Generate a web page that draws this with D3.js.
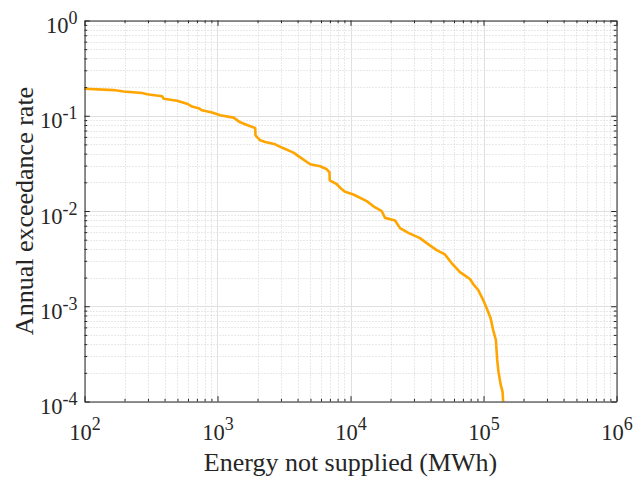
<!DOCTYPE html>
<html>
<head>
<meta charset="utf-8">
<script src="https://cdn.jsdelivr.net/npm/d3@7"></script>
<style>
  html, body { margin: 0; padding: 0; background: #fff; }
  svg { display: block; }
  text { font-family: "Liberation Serif", "Times New Roman", serif; fill: #262626; }
</style>
</head>
<body>
<svg id="chart" width="634" height="477"></svg>
<script>
// ---- data ----
const energy = [100, 166, 197, 271, 296, 383, 394, 496, 590, 644, 721, 765, 910, 1050, 1321, 1483, 1664, 1921, 1930,
  2094, 2284, 2716, 2960, 3725, 4186, 4975, 5911, 6637, 6950, 6980, 7884, 8602, 9105, 10510, 13250, 14860, 17180,
  18190, 21630, 23570, 27210, 33300, 37400, 44460, 51290, 57560, 60940, 66490, 70430, 79040, 83720, 91250, 99500,
  105500, 113000, 118200, 123900, 126800, 129700, 134300, 139100, 140500];
const rate = [0.192, 0.186, 0.180, 0.173, 0.168, 0.160, 0.151, 0.144, 0.134, 0.125, 0.120, 0.114, 0.108, 0.101, 0.0955,
  0.0853, 0.0799, 0.0743, 0.0623, 0.0552, 0.0530, 0.0501, 0.0472, 0.0410, 0.0366, 0.0310, 0.0295, 0.0274, 0.0255,
  0.0210, 0.0191, 0.0169, 0.0159, 0.0149, 0.0127, 0.0112, 0.00995, 0.00847, 0.00795, 0.00661, 0.00589, 0.00519,
  0.00460, 0.00388, 0.00350, 0.00284, 0.00260, 0.00228, 0.00216, 0.00193, 0.00171, 0.00148, 0.00116, 0.000958,
  0.000752, 0.000562, 0.000442, 0.000273, 0.000204, 0.000153, 0.000126, 0.0001];
const xTickExps = [2, 3, 4, 5, 6];
const yTickExps = [0, -1, -2, -3, -4];
const xLabel = "Energy not supplied (MWh)";
const yLabel = "Annual exceedance rate";

// ---- layout ----
const svg = d3.select("#chart");
const L = 84.5, R = 616.5, T = 20.5, B = 401.5;
const x = d3.scaleLog().domain([1e2, 1e6]).range([L, R]);
const y = d3.scaleLog().domain([1e-4, 1]).range([B, T]);

const xMajor = xTickExps.map(e => Math.pow(10, e));
const yMajor = yTickExps.map(e => Math.pow(10, e));
function minors(lo, hi) {
  const out = [];
  for (let e = lo; e < hi; e++) for (let m = 2; m <= 9; m++) out.push(m * Math.pow(10, e));
  return out;
}
const xMinor = minors(2, 6);
const yMinor = minors(-4, 0);

const axisColor = "#262626";
const tickFont = 22.5, supFont = 18, labelFont = 26;
const g = svg.append("g");

// grid: minor dotted, major solid
g.append("g").selectAll("line").data(xMinor).join("line")
  .attr("x1", d => Math.round(x(d)) + 0.5).attr("x2", d => Math.round(x(d)) + 0.5)
  .attr("y1", T).attr("y2", B)
  .attr("stroke", "#d2d2d2").attr("stroke-width", 1).attr("stroke-dasharray", "1,2");
g.append("g").selectAll("line").data(yMinor).join("line")
  .attr("y1", d => Math.round(y(d)) + 0.5).attr("y2", d => Math.round(y(d)) + 0.5)
  .attr("x1", L).attr("x2", R)
  .attr("stroke", "#d2d2d2").attr("stroke-width", 1).attr("stroke-dasharray", "1,2");
g.append("g").selectAll("line").data(xMajor).join("line")
  .attr("x1", d => Math.round(x(d)) + 0.5).attr("x2", d => Math.round(x(d)) + 0.5)
  .attr("y1", T).attr("y2", B)
  .attr("stroke", "#e0e0e0").attr("stroke-width", 1);
g.append("g").selectAll("line").data(yMajor).join("line")
  .attr("y1", d => Math.round(y(d)) + 0.5).attr("y2", d => Math.round(y(d)) + 0.5)
  .attr("x1", L).attr("x2", R)
  .attr("stroke", "#e0e0e0").attr("stroke-width", 1);

// data line
const line = d3.line().x((d, i) => x(energy[i])).y((d, i) => y(rate[i]));
g.append("path").datum(rate)
  .attr("d", line)
  .attr("fill", "none")
  .attr("stroke", "#FFA500")
  .attr("stroke-width", 2.6)
  .attr("stroke-linejoin", "round");

// axes (ticks pointing inward, box on)
const majLen = 5.3, minLen = 2.7;
function styleAxis(sel) {
  sel.selectAll("path.domain").attr("stroke", axisColor).attr("stroke-width", 1);
  sel.selectAll(".tick line").attr("stroke", axisColor).attr("stroke-width", 1);
}
function blankAxis(axis) { return axis.tickFormat(() => ""); }

// minor ticks
[
  [d3.axisBottom(x).tickValues(xMinor).tickSizeInner(-minLen).tickSizeOuter(0), `translate(0,${B})`],
  [d3.axisTop(x).tickValues(xMinor).tickSizeInner(-minLen).tickSizeOuter(0), `translate(0,${T})`],
  [d3.axisLeft(y).tickValues(yMinor).tickSizeInner(-minLen).tickSizeOuter(0), `translate(${L},0)`],
  [d3.axisRight(y).tickValues(yMinor).tickSizeInner(-minLen).tickSizeOuter(0), `translate(${R},0)`]
].forEach(([ax, tr]) => {
  g.append("g").attr("transform", tr).call(blankAxis(ax)).call(styleAxis)
    .selectAll("path.domain").remove();
});

// top/right major ticks (no labels) with domain
g.append("g").attr("transform", `translate(0,${T})`)
  .call(blankAxis(d3.axisTop(x).tickValues(xMajor).tickSizeInner(-majLen).tickSizeOuter(0))).call(styleAxis);
g.append("g").attr("transform", `translate(${R},0)`)
  .call(blankAxis(d3.axisRight(y).tickValues(yMajor).tickSizeInner(-majLen).tickSizeOuter(0))).call(styleAxis);

// bottom axis with labels 10^n
const xAxisG = g.append("g").attr("transform", `translate(0,${B})`)
  .call(d3.axisBottom(x).tickValues(xMajor).tickSizeInner(-majLen).tickSizeOuter(0).tickFormat(d => ""))
  .call(styleAxis);
xAxisG.selectAll(".tick text").each(function (d) {
  const t = d3.select(this);
  t.text(null).attr("y", 38).attr("dy", null).attr("text-anchor", "middle")
    .attr("font-size", tickFont).attr("fill", axisColor).attr("dx", 0);
  t.append("tspan").text("10");
  t.append("tspan").attr("dy", -10).attr("font-size", supFont).text(String(Math.round(Math.log10(d))));
});

// left axis with labels 10^n
const yAxisG = g.append("g").attr("transform", `translate(${L},0)`)
  .call(d3.axisLeft(y).tickValues(yMajor).tickSizeInner(-majLen).tickSizeOuter(0).tickFormat(d => ""))
  .call(styleAxis);
yAxisG.selectAll(".tick text").each(function (d) {
  const t = d3.select(this);
  t.text(null).attr("x", -7).attr("y", 12).attr("dy", null).attr("text-anchor", "end")
    .attr("font-size", tickFont).attr("fill", axisColor);
  t.append("tspan").text("10");
  const e = Math.round(Math.log10(d));
  t.append("tspan").attr("dy", -9).attr("font-size", supFont).text(e < 0 ? "-" + (-e) : String(e));
});

// axis titles
svg.append("text")
  .attr("x", (L + R) / 2).attr("y", 471)
  .attr("text-anchor", "middle").attr("font-size", labelFont)
  .text(xLabel);
svg.append("text")
  .attr("transform", `translate(33,${(T + B) / 2}) rotate(-90)`)
  .attr("text-anchor", "middle").attr("font-size", labelFont)
  .text(yLabel);
</script>
</body>
</html>
